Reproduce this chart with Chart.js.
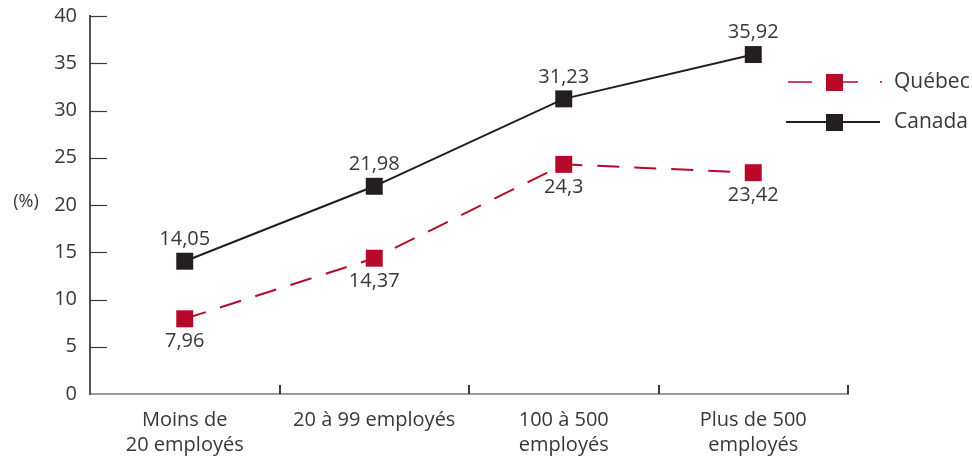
<!DOCTYPE html>
<html lang="fr">
<head>
<meta charset="utf-8">
<script src="https://cdn.jsdelivr.net/npm/chart.js@4.4.1/dist/chart.umd.min.js"></script>
<style>
  html, body { margin: 0; padding: 0; background: #ffffff; }
  #wrap { width: 972px; height: 456px; position: relative; }
</style>
</head>
<body>
<div id="wrap"><canvas id="chart" width="972" height="456"></canvas></div>
<script>
// Taille d'entreprise (catégories)
const categories = [
  ['Moins de', '20 employés'],
  '20 à 99 employés',
  ['100 à 500', 'employés'],
  ['Plus de 500', 'employés']
];
// Séries (%)
const quebec = [7.96, 14.37, 24.3, 23.42];
const canada = [14.05, 21.98, 31.23, 35.92];
const yTicks = [0, 5, 10, 15, 20, 25, 30, 35, 40];
const yTitle = '(%)';

const FONT = '"Open Sans", "Noto Sans", sans-serif';
const TEXT = '#383838';
const RED = '#b70a2b';
const BLACK = '#231f20';

const fmt = v => String(v).replace('.', ',');

// Petites graduations tournées vers l'intérieur, titre (%), étiquettes de valeurs et légende
const decorations = {
  id: 'decorations',
  afterDatasetsDraw(chart) {
    const ctx = chart.ctx;
    const x = chart.scales.x, y = chart.scales.y;
    ctx.save();
    ctx.strokeStyle = '#3a3a3a';
    ctx.lineWidth = 1.2;
    // graduations de l'axe vertical
    yTicks.forEach(v => {
      if (v === 0) return;
      const py = Math.round(y.getPixelForValue(v)) + 0.5;
      ctx.beginPath();
      ctx.moveTo(x.left, py);
      ctx.lineTo(x.left + 17, py);
      ctx.stroke();
    });
    // graduations de l'axe horizontal (limites des catégories)
    const step = (x.right - x.left) / categories.length;
    ctx.lineWidth = 2;
    for (let i = 1; i <= categories.length; i++) {
      const px = Math.round(x.left + i * step);
      ctx.beginPath();
      ctx.moveTo(px, y.bottom);
      ctx.lineTo(px, y.bottom - 9);
      ctx.stroke();
    }
    // titre de l'axe
    ctx.fillStyle = TEXT;
    ctx.font = '18px ' + FONT;
    ctx.textAlign = 'center';
    ctx.textBaseline = 'middle';
    ctx.fillText(yTitle, 26, y.getPixelForValue(20) - 3);
    // étiquettes de valeurs
    ctx.font = '20px ' + FONT;
    chart.data.datasets.forEach((ds, di) => {
      const meta = chart.getDatasetMeta(di);
      meta.data.forEach((pt, i) => {
        const above = ds.label === 'Canada';
        ctx.fillText(fmt(ds.data[i]), pt.x, above ? pt.y - 22 : pt.y + 23);
      });
    });
    // légende
    const items = [
      { ds: chart.data.datasets[0], y: 82 },
      { ds: chart.data.datasets[1], y: 122 }
    ];
    items.forEach(it => {
      const ds = it.ds;
      ctx.strokeStyle = ds.borderColor;
      ctx.lineWidth = ds.label === 'Canada' ? 2 : 1.5;
      ctx.beginPath();
      if (ds.label === 'Québec') {
        ctx.moveTo(788, it.y); ctx.lineTo(812, it.y);
        ctx.moveTo(843, it.y); ctx.lineTo(858, it.y);
        ctx.moveTo(880, it.y); ctx.lineTo(882, it.y);
      } else {
        ctx.moveTo(786, it.y); ctx.lineTo(880, it.y);
      }
      ctx.stroke();
      ctx.fillStyle = ds.pointBackgroundColor;
      ctx.fillRect(826, it.y - 8, 17, 17);
      ctx.fillStyle = TEXT;
      ctx.font = '21px ' + FONT;
      ctx.textAlign = 'left';
      ctx.fillText(ds.label, 894, it.y);
    });
    ctx.restore();
  }
};

new Chart(document.getElementById('chart'), {
  type: 'line',
  data: {
    labels: categories,
    datasets: [
      {
        label: 'Québec',
        data: quebec,
        borderColor: RED,
        borderWidth: 2,
        borderDash: [22, 15],
        pointStyle: 'rect',
        pointRadius: 12,
        pointBackgroundColor: RED,
        pointBorderColor: RED,
        pointBorderWidth: 0,
        tension: 0
      },
      {
        label: 'Canada',
        data: canada,
        borderColor: BLACK,
        borderWidth: 2,
        pointStyle: 'rect',
        pointRadius: 12,
        pointBackgroundColor: BLACK,
        pointBorderColor: BLACK,
        pointBorderWidth: 0,
        tension: 0
      }
    ]
  },
  options: {
    responsive: false,
    animation: false,
    devicePixelRatio: 1,
    layout: { padding: { left: 0, right: 124, top: 16, bottom: 0 } },
    plugins: { legend: { display: false }, tooltip: { enabled: false } },
    scales: {
      x: {
        offset: true,
        grid: { display: false, drawTicks: false },
        border: { display: true, color: '#9a9a9a', width: 2 },
        ticks: { color: TEXT, font: { family: FONT, size: 20, lineHeight: 1.25 }, padding: 14, maxRotation: 0, autoSkip: false },
        afterFit(scale) {
          scale.height = 62;
          scale.paddingLeft = scale.paddingRight = scale.paddingTop = scale.paddingBottom = 0;
        }
      },
      y: {
        min: 0,
        max: 40,
        afterBuildTicks(scale) { scale.ticks = yTicks.map(v => ({ value: v })); },
        grid: { display: false, drawTicks: false },
        border: { display: true, color: '#555555', width: 2 },
        ticks: { color: TEXT, font: { family: FONT, size: 20 }, padding: 13 },
        afterFit(scale) {
          scale.width = 90;
          scale.paddingLeft = scale.paddingRight = scale.paddingTop = scale.paddingBottom = 0;
        }
      }
    }
  },
  plugins: [decorations]
});
</script>
</body>
</html>
